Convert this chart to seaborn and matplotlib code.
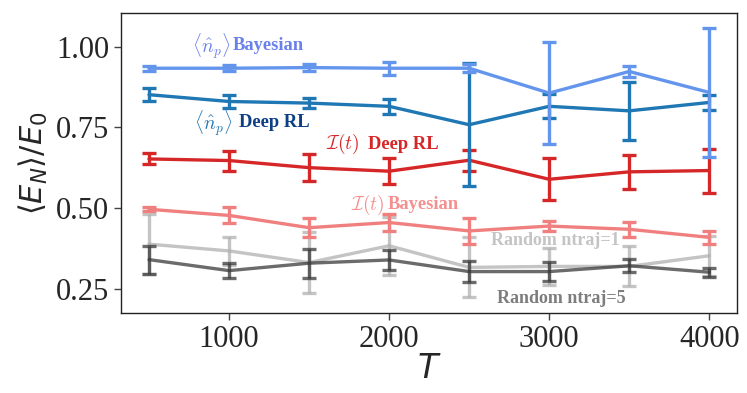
import seaborn as sns
import matplotlib.pyplot as plt
import pandas as pd

# horizon lengths
T_vals = [500, 1000, 1500, 2000, 2500, 3000, 3500, 4000]

# <n_p> Bayesian
np_bayes = [0.933, 0.933, 0.935, 0.933, 0.933, 0.856, 0.923, 0.858]
np_bayes_err = [0.008, 0.010, 0.010, 0.020, 0.012, 0.157, 0.018, 0.200]
# <n_p> Deep RL
np_rl = [0.851, 0.830, 0.825, 0.815, 0.758, 0.815, 0.801, 0.827]
np_rl_err = [0.020, 0.020, 0.015, 0.024, 0.190, 0.037, 0.090, 0.023]
# I(t) Deep RL
it_rl = [0.652, 0.647, 0.625, 0.614, 0.648, 0.589, 0.612, 0.616]
it_rl_err = [0.017, 0.031, 0.041, 0.040, 0.032, 0.065, 0.053, 0.068]
# I(t) Bayesian
it_bayes = [0.496, 0.477, 0.439, 0.455, 0.429, 0.444, 0.434, 0.409]
it_bayes_err = [0.006, 0.025, 0.030, 0.026, 0.039, 0.015, 0.024, 0.021]
# random strategies
rand1 = [0.388, 0.367, 0.331, 0.383, 0.316, 0.319, 0.319, 0.352]
rand1_err = [0.092, 0.044, 0.095, 0.090, 0.093, 0.057, 0.062, 0.062]
rand5 = [0.340, 0.306, 0.329, 0.339, 0.303, 0.303, 0.321, 0.301]
rand5_err = [0.043, 0.023, 0.045, 0.030, 0.032, 0.030, 0.020, 0.014]

sns.set_style("ticks")
plt.rcParams['font.family'] = ['Liberation Serif', 'DejaVu Serif']
plt.rcParams['mathtext.fontset'] = 'dejavusans'

fig, ax = plt.subplots(figsize=(7.47, 3.93), dpi=100)
fig.subplots_adjust(left=0.162, right=0.987, top=0.966, bottom=0.203)

series = [
    (rand1, rand1_err, "#b0b0b0", 0.75),
    (rand5, rand5_err, "#3a3a3a", 0.75),
    (it_bayes, it_bayes_err, "#f08080", 1.0),
    (it_rl, it_rl_err, "#d62728", 1.0),
    (np_rl, np_rl_err, "#1f77b4", 1.0),
    (np_bayes, np_bayes_err, "#6495ed", 1.0),
]

for vals, errs, col, a in series:
    df = pd.DataFrame({"T": T_vals, "E": vals})
    sns.lineplot(data=df, x="T", y="E", color=col, alpha=a, lw=2.4, ax=ax)
    ax.errorbar(T_vals, vals, yerr=errs, fmt="none", ecolor=col, alpha=a,
                elinewidth=2.4, capsize=5, capthick=2.4)

# curve labels
ax.text(771, 1.002, r"$\langle\hat{n}_p\rangle$", color="#6a80ea", fontsize=14,
        va="center", ha="left", math_fontfamily="cm")
ax.text(1021, 1.002, "Bayesian", color="#6a80ea", fontsize=13.3, fontweight="bold",
        va="center", ha="left")
ax.text(781, 0.764, r"$\langle\hat{n}_p\rangle$", color="#1f77b4", fontsize=14,
        va="center", ha="left", math_fontfamily="cm")
ax.text(1061, 0.764, "Deep RL", color="#0d3f85", fontsize=13.3, fontweight="bold",
        va="center", ha="left")
ax.text(1604, 0.697, r"$\mathcal{I}(t)$", color="#d62728", fontsize=14,
        va="center", ha="left", math_fontfamily="cm")
ax.text(1865, 0.697, "Deep RL", color="#d62728", fontsize=13.3, fontweight="bold",
        va="center", ha="left")
ax.text(1761, 0.511, r"$\mathcal{I}(t)$", color="#f4908f", fontsize=14,
        va="center", ha="left", math_fontfamily="cm")
ax.text(1990, 0.511, "Bayesian", color="#f4908f", fontsize=13.3, fontweight="bold",
        va="center", ha="left")
ax.text(2636, 0.398, "Random ntraj=1", color="#c4c4c4", fontsize=13, fontweight="bold",
        va="center", ha="left")
ax.text(2673, 0.220, "Random ntraj=5", color="#7d7d7d", fontsize=13, fontweight="bold",
        va="center", ha="left")

ax.set_xlim(325, 4175)
ax.set_ylim(0.174, 1.103)
ax.set_xticks([1000, 2000, 3000, 4000])
ax.set_yticks([0.25, 0.50, 0.75, 1.00])
ax.set_yticklabels(["0.25", "0.50", "0.75", "1.00"])
ax.tick_params(labelsize=22, length=5, width=1, color="#444444")
ax.set_xlabel(r"$T$", fontsize=24, labelpad=0)
ax.set_ylabel(r"$\langle E_N\rangle/E_0$", fontsize=22, labelpad=4)
for sp in ax.spines.values():
    sp.set_visible(True)
    sp.set_color("#222222")
    sp.set_linewidth(1.0)

fig.savefig("out.png", dpi=100)
